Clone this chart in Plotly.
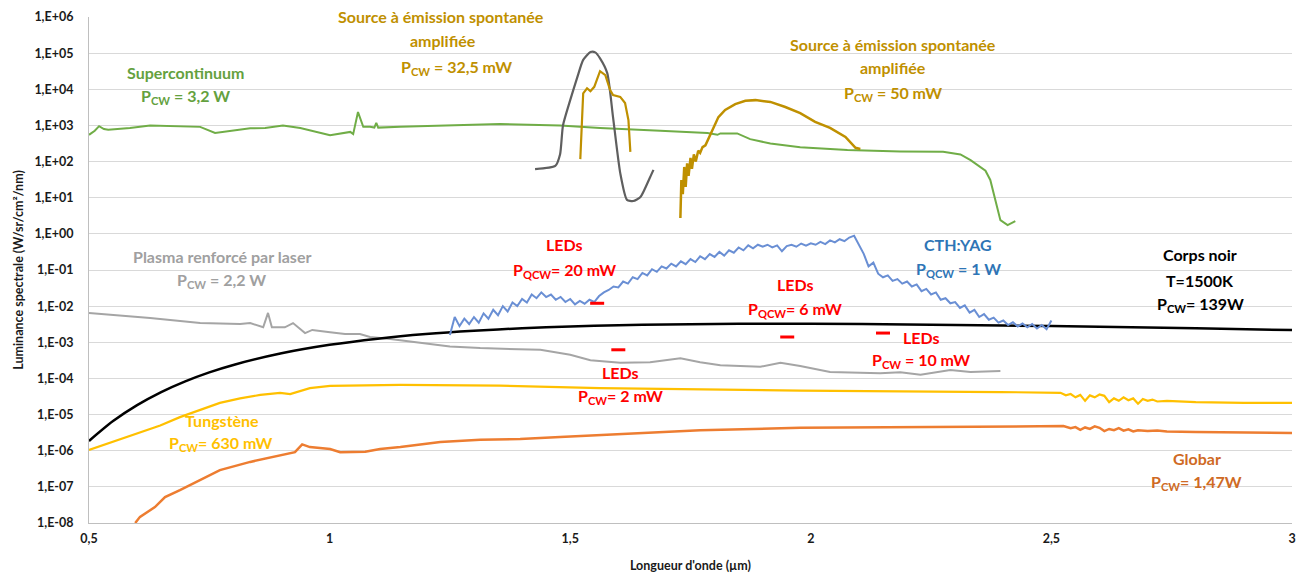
import plotly.graph_objects as go

# ---------------- data ----------------
# Supercontinuum, P_CW = 3,2 W
sc_x = [0.5, 0.512, 0.521, 0.531, 0.54, 0.585, 0.627, 0.689, 0.731, 0.762, 0.793, 0.835, 0.866, 0.903,
        0.939, 1.001, 1.043, 1.049, 1.059, 1.07, 1.084, 1.093, 1.097, 1.101, 1.147, 1.25, 1.354, 1.479,
        1.562, 1.687, 1.785, 1.806, 1.812, 1.847, 1.874, 1.916, 1.978, 2.076, 2.186, 2.275, 2.311, 2.332,
        2.363, 2.373, 2.384, 2.394, 2.409, 2.425]
sc_y = [550, 710, 955, 794, 760, 850, 1000, 955, 912, 617, 708, 832, 851, 1000,
        851, 537, 661, 575, 2340, 912, 912, 870, 1175, 870, 912, 1000, 1100, 1000,
        851, 708, 617, 550, 600, 600, 417, 316, 251, 209, 190, 186, 158, 110,
        56, 31, 7.9, 2.4, 1.74, 2.24]

# Source a emission spontanee amplifiee, P_CW = 32,5 mW
ase1_x = [1.521, 1.527, 1.535, 1.542, 1.55, 1.556, 1.562, 1.573, 1.583, 1.589, 1.604, 1.614, 1.621, 1.625]
ase1_y = [117, 7760, 10700, 8900, 11700, 18200, 31600, 24500, 9550, 6900, 6170, 4170, 1410, 186]

# Source a emission spontanee amplifiee, P_CW = 50 mW
ase2_x = [1.729, 1.731, 1.734, 1.737, 1.74, 1.743, 1.746, 1.75, 1.753, 1.757, 1.761, 1.766, 1.77, 1.775,
          1.781, 1.791, 1.797, 1.808, 1.822, 1.843, 1.864, 1.885, 1.916, 1.947, 1.978, 2.009, 2.04,
          2.072, 2.093, 2.103]
ase2_y = [2.75, 31, 12.6, 71, 20, 89, 40, 126, 63, 158, 100, 200, 174, 251,
          282, 550, 912, 1700, 2690, 3890, 4790, 5010, 4470, 3240, 2190, 1260, 851,
          479, 240, 224]

# Unlabelled dark-grey curve
dg_x = [1.427, 1.469, 1.479, 1.485, 1.5, 1.515, 1.527, 1.542, 1.552, 1.562, 1.577, 1.589, 1.604, 1.618,
        1.631, 1.646, 1.666, 1.673]
dg_y = [62, 76, 160, 1000, 5000, 22000, 65000, 107000, 105000, 72000, 28000, 1700, 48, 8.7,
        8.1, 10.5, 37, 59]

# Plasma renforce par laser, P_CW = 2,2 W
pl_x = [0.5, 0.627, 0.731, 0.814, 0.835, 0.862, 0.872, 0.88, 0.907, 0.924, 0.949, 0.964, 1.001, 1.032,
        1.063, 1.084, 1.126, 1.188, 1.25, 1.313, 1.438, 1.5, 1.542, 1.604, 1.666, 1.729, 1.77, 1.812,
        1.895, 1.937, 1.978, 2.04, 2.103, 2.144, 2.186, 2.228, 2.29, 2.332, 2.394]
pl_y = [6.5e-3, 4.7e-3, 3.4e-3, 3.2e-3, 3.4e-3, 2.6e-3, 6.5e-3, 2.6e-3, 2.6e-3, 3.4e-3, 1.8e-3, 2.2e-3,
        1.9e-3, 1.7e-3, 1.7e-3, 1.4e-3, 1.23e-3, 9.5e-4, 7.6e-4, 6.9e-4, 6.2e-4, 4.5e-4, 3.2e-4, 2.7e-4,
        2.8e-4, 3.6e-4, 2.8e-4, 2.3e-4, 2.1e-4, 2.7e-4, 2.2e-4, 1.5e-4, 1.4e-4, 1.38e-4, 1.48e-4,
        1.26e-4, 1.7e-4, 1.5e-4, 1.6e-4]

# Corps noir T = 1500 K, P_CW = 139 W
bb_x = [0.5, 0.55, 0.6, 0.65, 0.7, 0.75, 0.8, 0.9, 1.0, 1.1, 1.2, 1.3, 1.4, 1.5, 1.6, 1.7, 1.8, 1.9,
        2.0, 2.2, 2.4, 2.6, 2.8, 3.0]
bb_y = [1.86e-6, 6.6e-6, 1.82e-5, 4.18e-5, 8.28e-5, 1.47e-4, 2.36e-4, 4.95e-4, 8.5e-4, 1.26e-3, 1.69e-3,
        2.09e-3, 2.45e-3, 2.74e-3, 2.96e-3, 3.12e-3, 3.21e-3, 3.25e-3, 3.24e-3, 3.13e-3, 2.92e-3,
        2.69e-3, 2.43e-3, 2.18e-3]

# Tungstene, P_CW = 630 mW
tu_x = [0.5, 0.544, 0.591, 0.648, 0.689, 0.731, 0.772, 0.814, 0.856, 0.897, 0.918, 0.959, 1.001, 1.147,
        1.354, 1.562, 1.978, 2.394, 2.519, 2.53, 2.54, 2.55, 2.56, 2.57, 2.58, 2.59, 2.6, 2.61, 2.62,
        2.63, 2.64, 2.65, 2.66, 2.67, 2.68, 2.69, 2.7, 2.71, 2.72, 2.74, 2.76, 2.8, 2.9, 3.0]
tu_y = [1.05e-6, 1.66e-6, 2.7e-6, 5.0e-6, 8.5e-6, 1.35e-5, 2.1e-5, 2.8e-5, 3.5e-5, 4.0e-5, 3.7e-5, 5.4e-5,
        6.2e-5, 6.6e-5, 6.3e-5, 5.4e-5, 4.6e-5, 4.2e-5, 4.0e-5, 3.4e-5, 3.7e-5, 3.0e-5, 3.5e-5, 2.4e-5,
        3.4e-5, 3.0e-5, 3.6e-5, 3.3e-5, 2.2e-5, 2.8e-5, 2.4e-5, 3.0e-5, 2.5e-5, 2.8e-5, 2.0e-5, 2.7e-5,
        2.4e-5, 2.6e-5, 2.3e-5, 2.4e-5, 2.3e-5, 2.2e-5, 2.1e-5, 2.1e-5]

# Globar, P_CW = 1,47 W
gl_x = [0.596, 0.606, 0.637, 0.658, 0.689, 0.731, 0.772, 0.835, 0.897, 0.928, 0.943, 0.959, 1.001, 1.022,
        1.074, 1.105, 1.147, 1.188, 1.23, 1.313, 1.396, 1.479, 1.562, 1.77, 1.978, 2.186, 2.525, 2.54,
        2.55, 2.56, 2.57, 2.58, 2.59, 2.6, 2.61, 2.62, 2.63, 2.64, 2.65, 2.66, 2.67, 2.68, 2.7, 2.72,
        2.74, 2.8, 2.9, 3.0]
gl_y = [1.0e-8, 1.48e-8, 2.75e-8, 5.2e-8, 8.1e-8, 1.55e-7, 2.9e-7, 4.9e-7, 7.6e-7, 9.1e-7, 1.5e-6, 1.26e-6,
        1.12e-6, 9.1e-7, 9.3e-7, 1.12e-6, 1.26e-6, 1.5e-6, 1.74e-6, 2.0e-6, 2.1e-6, 2.4e-6, 2.7e-6,
        3.7e-6, 4.3e-6, 4.5e-6, 4.8e-6, 4.2e-6, 4.5e-6, 3.8e-6, 4.4e-6, 4.0e-6, 4.7e-6, 4.3e-6, 3.5e-6,
        4.0e-6, 3.7e-6, 4.2e-6, 3.6e-6, 3.9e-6, 3.4e-6, 3.7e-6, 3.5e-6, 3.6e-6, 3.4e-6, 3.3e-6, 3.2e-6,
        3.1e-6]

# CTH:YAG, P_QCW = 1 W  (sampled every 0.01 um from 1.25 to 2.50)
cth_x = [round(1.25 + 0.01 * i, 2) for i in range(126)]
cth_y = [1.6e-3, 5.0e-3, 2.8e-3, 4.5e-3, 3.2e-3, 5.0e-3, 3.5e-3, 6.3e-3, 4.5e-3, 7.9e-3,
         5.6e-3, 1.0e-2, 7.1e-3, 1.26e-2, 1.0e-2, 1.58e-2, 1.26e-2, 2.1e-2, 1.66e-2, 2.4e-2,
         1.78e-2, 2.1e-2, 1.5e-2, 1.8e-2, 1.3e-2, 1.58e-2, 1.12e-2, 1.4e-2, 1.17e-2, 1.5e-2,
         1.3e-2, 1.9e-2, 2.4e-2, 2.8e-2, 3.5e-2, 3.3e-2, 4.8e-2, 4.2e-2, 6.3e-2, 5.6e-2,
         8.3e-2, 7.1e-2, 1.05e-1, 8.9e-2, 1.26e-1, 1.1e-1, 1.5e-1, 1.26e-1, 1.74e-1, 1.45e-1,
         2.0e-1, 1.66e-1, 2.4e-1, 2.0e-1, 2.75e-1, 2.3e-1, 3.16e-1, 2.5e-1, 3.5e-1, 3.0e-1,
         4.2e-1, 3.5e-1, 4.8e-1, 4.0e-1, 5.0e-1, 4.4e-1, 5.0e-1, 4.2e-1, 4.8e-1, 3.3e-1,
         4.6e-1, 5.0e-1, 4.4e-1, 5.4e-1, 4.7e-1, 5.5e-1, 5.0e-1, 6.0e-1, 5.2e-1, 6.6e-1,
         5.8e-1, 7.1e-1, 6.3e-1, 7.9e-1, 8.9e-1, 5.0e-1, 2.8e-1, 1.26e-1, 1.6e-1, 7.9e-2,
         6.3e-2, 7.1e-2, 5.0e-2, 5.6e-2, 4.2e-2, 4.8e-2, 3.5e-2, 4.0e-2, 2.6e-2, 3.0e-2,
         2.1e-2, 2.4e-2, 1.5e-2, 1.66e-2, 1.2e-2, 1.3e-2, 8.9e-3, 1.05e-2, 6.6e-3, 7.9e-3,
         5.0e-3, 6.0e-3, 4.2e-3, 4.8e-3, 3.5e-3, 4.0e-3, 3.0e-3, 3.6e-3, 2.75e-3, 3.3e-3,
         2.6e-3, 3.2e-3, 2.4e-3, 3.0e-3, 2.3e-3, 4.0e-3]

# LED points (short red dashes)
led_x = [1.556, 1.6, 1.951, 2.15]
led_y = [1.2e-2, 6.2e-4, 1.4e-3, 1.8e-3]

# axis ticks
x_ticks = [0.5, 1, 1.5, 2, 2.5, 3]
x_ticktext = ["0,5", "1", "1,5", "2", "2,5", "3"]
y_ticks = [1e-8, 1e-7, 1e-6, 1e-5, 1e-4, 1e-3, 1e-2, 1e-1, 1e0, 1e1, 1e2, 1e3, 1e4, 1e5, 1e6]
y_ticktext = ["1,E-08", "1,E-07", "1,E-06", "1,E-05", "1,E-04", "1,E-03", "1,E-02", "1,E-01",
              "1,E+00", "1,E+01", "1,E+02", "1,E+03", "1,E+04", "1,E+05", "1,E+06"]

# ---------------- figure ----------------
FONT = "Lato"
fig = go.Figure()


def add_line(x, y, color, width=2, shape="linear", smoothing=None):
    line = dict(color=color, width=width, shape=shape)
    if smoothing is not None:
        line["smoothing"] = smoothing
    fig.add_trace(go.Scatter(x=x, y=y, mode="lines", line=line, hoverinfo="skip", showlegend=False))


add_line(pl_x, pl_y, "#A5A5A5", 2)
add_line(tu_x, tu_y, "#FFC000", 2.2)
add_line(gl_x, gl_y, "#ED7D31", 2.5)
add_line(sc_x, sc_y, "#70AD47", 2)
add_line(bb_x, bb_y, "#000000", 2.5, "spline", 0.8)
add_line(cth_x, cth_y, "#6A8FD4", 2)
add_line(dg_x, dg_y, "#5F5F5F", 2.2, "spline", 0.6)
add_line(ase1_x, ase1_y, "#BF9000", 2.2)
add_line(ase2_x, ase2_y, "#BF9000", 2.5)

fig.add_trace(go.Scatter(x=led_x, y=led_y, mode="markers",
                         marker=dict(symbol="line-ew", size=10, line=dict(color="#FF0000", width=3)),
                         hoverinfo="skip", showlegend=False))

# plot-area geometry in pixels (used to place labels)
L, R, T, B = 89, 1292, 17, 523


def label(text, px, py, color, size=16):
    fig.add_annotation(x=(px - L) / (R - L), y=(B - py) / (B - T), xref="paper", yref="paper",
                       text=text, showarrow=False, xanchor="center", yanchor="middle",
                       font=dict(family=FONT, size=size, color=color, weight="bold"))


GREEN_T = "#64A13E"
GOLD_T = "#BF9000"
GREY_T = "#A0A0A0"
RED_T = "#FF0000"
BLUE_T = "#2E75B6"
ORANGE_T = "#CF6A24"
YEL_T = "#FFC000"

label("Supercontinuum", 185, 72, GREEN_T)
label("P<sub>CW</sub> = 3,2 W", 185, 97, GREEN_T)

label("Source à émission spontanée", 441, 16, GOLD_T)
label("amplifiée", 443, 41, GOLD_T)
label("P<sub>CW</sub> = 32,5 mW", 456, 67, GOLD_T)

label("Source à émission spontanée", 893, 44, GOLD_T)
label("amplifiée", 893, 68, GOLD_T)
label("P<sub>CW</sub> = 50 mW", 893, 93, GOLD_T)

label("Plasma renforcé par laser", 222, 256, GREY_T)
label("P<sub>CW</sub> = 2,2 W", 221, 280, GREY_T)

label("LEDs", 564, 245, RED_T)
label("P<sub>QCW</sub>= 20 mW", 564, 270, RED_T)
label("LEDs", 795, 284, RED_T)
label("P<sub>QCW</sub>= 6 mW", 795, 309, RED_T)
label("LEDs", 620, 372, RED_T)
label("P<sub>CW</sub>= 2 mW", 620, 396, RED_T)
label("LEDs", 921, 337, RED_T)
label("P<sub>CW</sub> = 10 mW", 921, 360, RED_T)

label("CTH:YAG", 958, 245, BLUE_T)
label("P<sub>QCW</sub> = 1 W", 958, 269, BLUE_T)

label("Corps noir", 1200, 255, "#000000")
label("T=1500K", 1200, 280, "#000000")
label("P<sub>CW</sub>= 139W", 1200, 304, "#000000")

label("Tungstène", 222, 420, YEL_T)
label("P<sub>CW</sub>= 630 mW", 221, 443, YEL_T)

label("Globar", 1197, 458, ORANGE_T)
label("P<sub>CW</sub>= 1,47W", 1196, 482, ORANGE_T)

tick_font = dict(family=FONT, size=12.5, color="#1A1A1A", weight="bold")

fig.update_layout(
    width=1311, height=581,
    margin=dict(l=L, r=1311 - R, t=T, b=581 - B, autoexpand=False),
    paper_bgcolor="white", plot_bgcolor="white",
    xaxis=dict(range=[0.5, 3], tickvals=x_ticks, ticktext=x_ticktext, showgrid=False,
               zeroline=False, showline=True, linecolor="#BFBFBF", linewidth=1, automargin=False,
               ticks="", tickfont=tick_font, ticklabelstandoff=4,
               title=dict(text="Longueur d'onde (µm)", font=tick_font, standoff=16)),
    yaxis=dict(type="log", range=[-8, 6], tickvals=y_ticks, ticktext=y_ticktext, automargin=False,
               showgrid=True, gridcolor="#D9D9D9", gridwidth=1, zeroline=False,
               showline=True, linecolor="#BFBFBF", linewidth=1, ticks="", tickfont=tick_font,
               ticklabelstandoff=12,
               title=dict(text="Luminance spectrale (W/sr/cm²/nm)", font=tick_font, standoff=8)),
)

fig.write_html("out.html", config={"displayModeBar": False},
               post_script="document.body.style.margin='0';")
